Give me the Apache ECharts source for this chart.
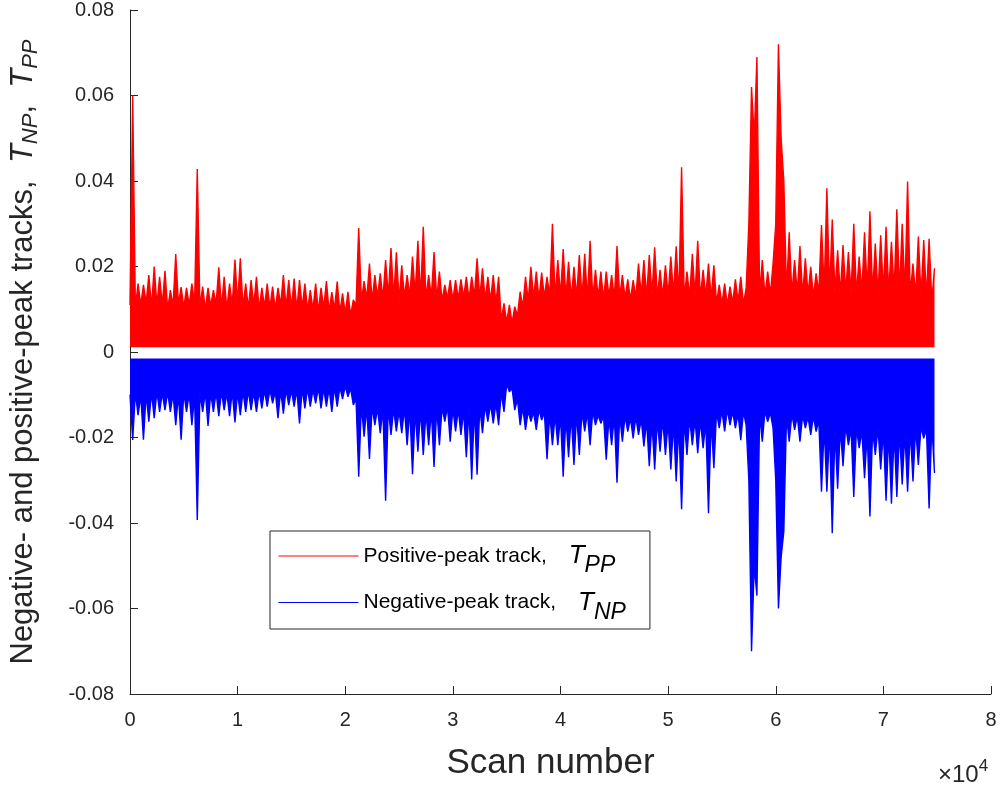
<!DOCTYPE html>
<html>
<head>
<meta charset="utf-8">
<script src="https://cdn.jsdelivr.net/npm/echarts@6/dist/echarts.min.js"></script>
<style>
  html, body { margin: 0; padding: 0; background: #fff; }
  #chart { width: 1007px; height: 786px; }
</style>
</head>
<body>
<div id="chart"></div>
<script>
// one bin = 500 scans; for each bin: solid body level and the spike top
const binWidth = 500;

const ppPeak = [
  0.060, 0.0160, 0.0157, 0.0180, 0.0200, 0.0176, 0.0190, 0.0145, 0.0229, 0.0152,
  0.0150, 0.0160, 0.0428, 0.0153, 0.0150, 0.0145, 0.0198, 0.0176, 0.0160, 0.0216,
  0.0219, 0.0160, 0.0168, 0.0176, 0.0150, 0.0160, 0.0153, 0.0150, 0.0180, 0.0168,
  0.0172, 0.0168, 0.0160, 0.0145, 0.0160, 0.0150, 0.0166, 0.0140, 0.0165, 0.0137,
  0.0141, 0.0122, 0.0290, 0.0166, 0.0207, 0.0180, 0.0184, 0.0215, 0.0243, 0.0233,
  0.0203, 0.0180, 0.0223, 0.0260, 0.0293, 0.0180, 0.0234, 0.0188, 0.0157, 0.0168,
  0.0168, 0.0170, 0.0176, 0.0176, 0.0219, 0.0196, 0.0176, 0.0180, 0.0176, 0.0114,
  0.0110, 0.0106, 0.0141, 0.0176, 0.0199, 0.0188, 0.0186, 0.0176, 0.0300, 0.0215,
  0.0241, 0.0211, 0.0199, 0.0227, 0.0230, 0.0260, 0.0192, 0.0188, 0.0188, 0.0180,
  0.0248, 0.0180, 0.0170, 0.0168, 0.0207, 0.0215, 0.0227, 0.0245, 0.0192, 0.0203,
  0.0223, 0.0247, 0.0432, 0.0188, 0.0230, 0.0260, 0.0192, 0.0207, 0.0203, 0.0157,
  0.0160, 0.0153, 0.0170, 0.0176, 0.0150, 0.0620, 0.0690, 0.0215, 0.0188, 0.0207,
  0.0720, 0.0400, 0.0280, 0.0215, 0.0248, 0.0219, 0.0199, 0.0184, 0.0297, 0.0383,
  0.0310, 0.0238, 0.0250, 0.0234, 0.0300, 0.0223, 0.0280, 0.0329, 0.0254, 0.0273,
  0.0293, 0.0258, 0.0334, 0.0300, 0.0399, 0.0207, 0.0270, 0.0262, 0.0265, 0.0196
];

const ppBody = [
  0.0110, 0.0105, 0.0110, 0.0115, 0.0105, 0.0110, 0.0110, 0.0100, 0.0108, 0.0112,
  0.0104, 0.0110, 0.0113, 0.0105, 0.0100, 0.0108, 0.0112, 0.0104, 0.0100, 0.0110,
  0.0115, 0.0105, 0.0102, 0.0110, 0.0100, 0.0106, 0.0103, 0.0100, 0.0110, 0.0105,
  0.0102, 0.0100, 0.0104, 0.0098, 0.0100, 0.0096, 0.0102, 0.0095, 0.0100, 0.0094,
  0.0090, 0.0085, 0.0110, 0.0120, 0.0125, 0.0120, 0.0128, 0.0125, 0.0130, 0.0126,
  0.0122, 0.0128, 0.0130, 0.0135, 0.0128, 0.0125, 0.0130, 0.0124, 0.0120, 0.0125,
  0.0122, 0.0125, 0.0128, 0.0124, 0.0130, 0.0126, 0.0122, 0.0120, 0.0115, 0.0075,
  0.0070, 0.0068, 0.0085, 0.0105, 0.0120, 0.0126, 0.0124, 0.0128, 0.0130, 0.0126,
  0.0132, 0.0128, 0.0125, 0.0130, 0.0127, 0.0122, 0.0126, 0.0128, 0.0124, 0.0130,
  0.0126, 0.0128, 0.0126, 0.0122, 0.0128, 0.0132, 0.0130, 0.0134, 0.0128, 0.0130,
  0.0133, 0.0135, 0.0130, 0.0125, 0.0130, 0.0132, 0.0128, 0.0130, 0.0126, 0.0115,
  0.0112, 0.0110, 0.0115, 0.0118, 0.0112, 0.0300, 0.0500, 0.0135, 0.0130, 0.0135,
  0.0300, 0.0500, 0.0140, 0.0135, 0.0138, 0.0132, 0.0135, 0.0130, 0.0138, 0.0145,
  0.0142, 0.0138, 0.0135, 0.0140, 0.0138, 0.0135, 0.0140, 0.0142, 0.0138, 0.0135,
  0.0140, 0.0138, 0.0142, 0.0140, 0.0138, 0.0135, 0.0132, 0.0130, 0.0128, 0.0120
];

const npPeak = [
  -0.0206, -0.0148, -0.0205, -0.0163, -0.0155, -0.0140, -0.0136, -0.0140, -0.0171, -0.0205,
  -0.0140, -0.0171, -0.0393, -0.0140, -0.0173, -0.0140, -0.0150, -0.0136, -0.0150, -0.0165,
  -0.0148, -0.0140, -0.0136, -0.0140, -0.0132, -0.0128, -0.0120, -0.0155, -0.0144, -0.0124,
  -0.0128, -0.0167, -0.0132, -0.0128, -0.0120, -0.0132, -0.0128, -0.0140, -0.0128, -0.0110,
  -0.0105, -0.0124, -0.0292, -0.0198, -0.0250, -0.0171, -0.0190, -0.0348, -0.0194, -0.0186,
  -0.0190, -0.0218, -0.0286, -0.0233, -0.0241, -0.0218, -0.0269, -0.0218, -0.0163, -0.0210,
  -0.0186, -0.0194, -0.0246, -0.0298, -0.0287, -0.0190, -0.0163, -0.0167, -0.0171, -0.0140,
  -0.0093, -0.0136, -0.0171, -0.0182, -0.0163, -0.0182, -0.0159, -0.0251, -0.0218, -0.0218,
  -0.0292, -0.0246, -0.0264, -0.0241, -0.0186, -0.0218, -0.0171, -0.0167, -0.0252, -0.0218,
  -0.0306, -0.0210, -0.0186, -0.0202, -0.0194, -0.0221, -0.0267, -0.0275, -0.0233, -0.0241,
  -0.0275, -0.0303, -0.0368, -0.0241, -0.0218, -0.0237, -0.0225, -0.0377, -0.0272, -0.0178,
  -0.0186, -0.0171, -0.0178, -0.0206, -0.0171, -0.0700, -0.0570, -0.0210, -0.0163, -0.0178,
  -0.0600, -0.0420, -0.0210, -0.0182, -0.0210, -0.0178, -0.0194, -0.0186, -0.0327, -0.0327,
  -0.0424, -0.0320, -0.0267, -0.0218, -0.0339, -0.0225, -0.0295, -0.0385, -0.0241, -0.0275,
  -0.0348, -0.0355, -0.0339, -0.0310, -0.0327, -0.0303, -0.0264, -0.0202, -0.0366, -0.0283
];

const npBody = [
  -0.0100, -0.0095, -0.0102, -0.0098, -0.0095, -0.0092, -0.0096, -0.0094, -0.0098, -0.0100,
  -0.0095, -0.0098, -0.0102, -0.0096, -0.0094, -0.0096, -0.0094, -0.0092, -0.0096, -0.0093,
  -0.0095, -0.0092, -0.0090, -0.0094, -0.0092, -0.0090, -0.0088, -0.0092, -0.0090, -0.0088,
  -0.0090, -0.0088, -0.0086, -0.0085, -0.0088, -0.0084, -0.0086, -0.0085, -0.0083, -0.0082,
  -0.0080, -0.0085, -0.0110, -0.0125, -0.0130, -0.0128, -0.0132, -0.0135, -0.0130, -0.0134,
  -0.0138, -0.0132, -0.0135, -0.0138, -0.0135, -0.0140, -0.0136, -0.0132, -0.0130, -0.0128,
  -0.0132, -0.0135, -0.0138, -0.0135, -0.0130, -0.0128, -0.0125, -0.0122, -0.0120, -0.0095,
  -0.0075, -0.0085, -0.0110, -0.0130, -0.0138, -0.0140, -0.0135, -0.0142, -0.0145, -0.0148,
  -0.0150, -0.0152, -0.0148, -0.0145, -0.0140, -0.0142, -0.0138, -0.0148, -0.0150, -0.0155,
  -0.0150, -0.0148, -0.0150, -0.0155, -0.0152, -0.0158, -0.0162, -0.0165, -0.0160, -0.0158,
  -0.0165, -0.0168, -0.0170, -0.0160, -0.0155, -0.0158, -0.0160, -0.0165, -0.0160, -0.0140,
  -0.0138, -0.0135, -0.0140, -0.0145, -0.0140, -0.0300, -0.0500, -0.0145, -0.0138, -0.0142,
  -0.0300, -0.0480, -0.0150, -0.0145, -0.0150, -0.0148, -0.0152, -0.0150, -0.0160, -0.0175,
  -0.0180, -0.0185, -0.0178, -0.0172, -0.0180, -0.0178, -0.0185, -0.0190, -0.0182, -0.0178,
  -0.0185, -0.0190, -0.0188, -0.0185, -0.0190, -0.0182, -0.0178, -0.0175, -0.0180, -0.0170
];

// inner edges of the two bands (white gap around zero)
const ppFloor = 0.0011;
const npCeil = -0.0015;

function track(body, peak) {
  const pts = [];
  for (let i = 0; i < peak.length; i++) {
    pts.push([i * binWidth, body[i]]);
    pts.push([i * binWidth + binWidth / 2, peak[i]]);
  }
  return pts;
}

const font = 'Arial, "Liberation Sans", sans-serif';
const axisColor = '#262626';
const red = '#ff0000';
const blue = '#0000ff';

const chart = echarts.init(document.getElementById('chart'), null, {renderer: 'canvas'});

const option = {
  animation: false,
  backgroundColor: '#fff',
  grid: {left: 130, right: 16, top: 10, bottom: 92, outerBoundsMode: 'none', containLabel: false},
  title: {
    text: '×10{sup|4}',
    left: 933,
    top: 753,
    textStyle: {
      fontFamily: font, fontSize: 24, fontWeight: 'normal', color: axisColor,
      rich: {sup: {fontFamily: font, fontSize: 17, color: axisColor, padding: [0, 0, 17, 0]}}
    }
  },
  legend: {
    left: 270,
    top: 531,
    orient: 'vertical',
    selectedMode: false,
    backgroundColor: '#fff',
    borderColor: axisColor,
    borderWidth: 1,
    borderRadius: 0,
    padding: [12, 24, 5, 8],
    itemWidth: 80,
    itemHeight: 14,
    itemGap: 12,
    data: [
      {name: 'pp', itemStyle: {color: red, opacity: 0}, lineStyle: {color: red, width: 1}},
      {name: 'np', itemStyle: {color: blue, opacity: 0}, lineStyle: {color: blue, width: 1}}
    ],
    formatter: function (name) {
      return name === 'pp'
        ? '{n|Positive-peak track,}{g| }{t|T}{s|PP}'
        : '{n|Negative-peak track,}{g| }{t|T}{s|NP}';
    },
    textStyle: {
      color: '#000',
      rich: {
        n: {fontFamily: font, fontSize: 21, color: '#000', lineHeight: 33},
        g: {fontFamily: font, fontSize: 21, width: 22},
        t: {fontFamily: font, fontSize: 26, fontStyle: 'italic', color: '#000', lineHeight: 33},
        s: {fontFamily: font, fontSize: 23, fontStyle: 'italic', color: '#000', padding: [20, 0, 0, 0]}
      }
    }
  },
  xAxis: {
    type: 'value',
    min: 0,
    max: 80000,
    interval: 10000,
    name: 'Scan number',
    nameLocation: 'middle',
    nameGap: 52,
    nameTextStyle: {fontFamily: font, fontSize: 35, color: axisColor, padding: [0, 20, 0, 0]},
    axisLine: {onZero: false, lineStyle: {color: axisColor, width: 1}},
    axisTick: {inside: true, length: 8, lineStyle: {color: axisColor}},
    axisLabel: {
      fontFamily: font, fontSize: 20, color: axisColor, margin: 16,
      formatter: v => String(v / 10000)
    },
    splitLine: {show: false}
  },
  yAxis: {
    type: 'value',
    min: -0.08,
    max: 0.08,
    interval: 0.02,
    name: '{a|Negative- and positive-peak tracks,  }{i|T}{s|NP}{a|,  }{i|T}{s|PP}',
    nameLocation: 'middle',
    nameGap: 88,
    nameRotate: 90,
    nameTextStyle: {
      fontFamily: font, fontSize: 31, color: axisColor,
      rich: {
        a: {fontFamily: font, fontSize: 31, color: axisColor},
        i: {fontFamily: font, fontSize: 31, fontStyle: 'italic', color: axisColor},
        s: {fontFamily: font, fontSize: 22, fontStyle: 'italic', color: axisColor, padding: [16, 0, 0, 0]}
      }
    },
    axisLine: {show: true, onZero: false, lineStyle: {color: axisColor, width: 1}},
    axisTick: {show: true, inside: true, length: 8, lineStyle: {color: axisColor}},
    axisLabel: {
      fontFamily: font, fontSize: 20, color: axisColor, margin: 16,
      formatter: v => (Math.abs(v) < 1e-9 ? '0' : v.toFixed(2))
    },
    splitLine: {show: false}
  },
  series: [
    {
      name: 'pp',
      type: 'line',
      data: track(ppBody, ppPeak),
      symbol: 'none',
      lineStyle: {color: red, width: 1.4},
      itemStyle: {color: red},
      areaStyle: {color: red, opacity: 1, origin: ppFloor}
    },
    {
      name: 'np',
      type: 'line',
      data: track(npBody, npPeak),
      symbol: 'none',
      lineStyle: {color: blue, width: 1.4},
      itemStyle: {color: blue},
      areaStyle: {color: blue, opacity: 1, origin: npCeil}
    }
  ]
};

chart.setOption(option);
</script>
</body>
</html>
